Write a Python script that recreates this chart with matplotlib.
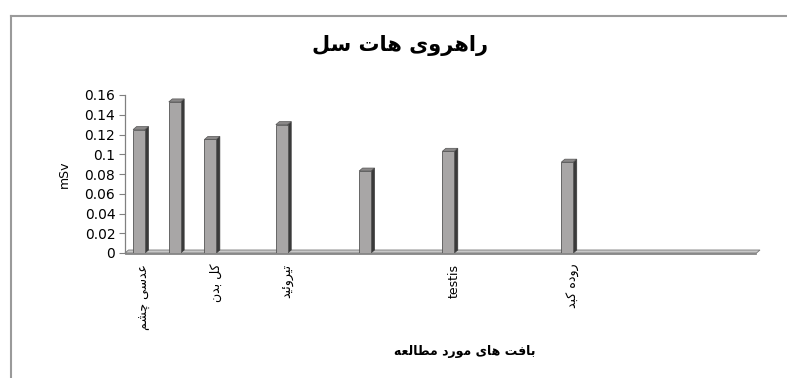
#!/usr/bin/env python3
# -*- coding: utf-8 -*-
"""
Dose per tissue in the hot-cell corridor, Excel-style 3D column chart.
"""
import matplotlib
matplotlib.use('Agg')
import matplotlib.pyplot as plt
from matplotlib.patches import Polygon
from matplotlib.lines import Line2D

#------------------------------------------------------------------------------#
# DATA
#------------------------------------------------------------------------------#
title = 'راهروی هات سل'
x_title = 'بافت های مورد مطالعه'
y_title = 'mSv'

tissues = ['عدسی چشم', '', 'کل بدن', 'تیروئید', '', 'testis', 'روده کبد']
dose = [0.125, 0.153, 0.115, 0.130, 0.083, 0.103, 0.092]
# category slot of each tissue on the (mostly blank) excel category axis
slot = [0, 3, 6, 12, 19, 26, 36]
n_slots = 53

y_ticks = [0, 0.02, 0.04, 0.06, 0.08, 0.1, 0.12, 0.14, 0.16]
y_tick_labels = ['0', '0.02', '0.04', '0.06', '0.08', '0.1', '0.12', '0.14', '0.16']

#------------------------------------------------------------------------------#
# small persian shaper (matplotlib has no arabic shaping / rtl)
#------------------------------------------------------------------------------#
# isolated, final, initial, medial
FORMS = {
    'ا': ('\uFE8D', '\uFE8E', None, None),
    'ب': ('\uFE8F', '\uFE90', '\uFE91', '\uFE92'),
    'ت': ('\uFE95', '\uFE96', '\uFE97', '\uFE98'),
    'ج': ('\uFE9D', '\uFE9E', '\uFE9F', '\uFEA0'),
    'چ': ('\uFB7A', '\uFB7B', '\uFB7C', '\uFB7D'),
    'د': ('\uFEA9', '\uFEAA', None, None),
    'ر': ('\uFEAD', '\uFEAE', None, None),
    'س': ('\uFEB1', '\uFEB2', '\uFEB3', '\uFEB4'),
    'ش': ('\uFEB5', '\uFEB6', '\uFEB7', '\uFEB8'),
    'ط': ('\uFEC1', '\uFEC2', '\uFEC3', '\uFEC4'),
    'ع': ('\uFEC9', '\uFECA', '\uFECB', '\uFECC'),
    'ف': ('\uFED1', '\uFED2', '\uFED3', '\uFED4'),
    'ک': ('\uFB8E', '\uFB8F', '\uFB90', '\uFB91'),
    'ل': ('\uFEDD', '\uFEDE', '\uFEDF', '\uFEE0'),
    'م': ('\uFEE1', '\uFEE2', '\uFEE3', '\uFEE4'),
    'ن': ('\uFEE5', '\uFEE6', '\uFEE7', '\uFEE8'),
    'ه': ('\uFEE9', '\uFEEA', '\uFEEB', '\uFEEC'),
    'و': ('\uFEED', '\uFEEE', None, None),
    'ی': ('\uFBFC', '\uFBFD', '\uFBFE', '\uFBFF'),
    'ئ': ('\uFE89', '\uFE8A', '\uFE8B', '\uFE8C'),
}


def dual(c):
    return c in FORMS and FORMS[c][2] is not None


def shape(text):
    if not any(c in FORMS for c in text):
        return text
    out = []
    for i, c in enumerate(text):
        if c not in FORMS:
            out.append(c)
            continue
        prev_j = i > 0 and dual(text[i - 1])
        next_j = dual(c) and i + 1 < len(text) and text[i + 1] in FORMS
        iso, fin, ini, med = FORMS[c]
        if prev_j and next_j:
            out.append(med)
        elif prev_j:
            out.append(fin)
        elif next_j:
            out.append(ini)
        else:
            out.append(iso)
    return ''.join(out)[::-1]

#------------------------------------------------------------------------------#
# PLOT
#------------------------------------------------------------------------------#
plt.rcParams['font.family'] = ['DejaVu Sans']

W, H = 787, 378
fig = plt.figure(figsize=(W / 100, H / 100), dpi=100)
fig.patch.set_facecolor('white')

ax = fig.add_axes([125 / W, 1 - 253 / H, 635 / W, 158 / H])
x_lo, x_hi = -1.18, n_slots - 0.8
ax.set_xlim(x_lo, x_hi)
ax.set_ylim(0, 0.16)

front = '#a8a6a6'
side = '#3a3a3a'
top = '#8a8888'

bars = ax.bar(slot, dose, width=1.0, color=front, edgecolor='#555555',
              linewidth=0.6, zorder=3)

# fake 3D depth: few pixels to the upper right
px_x = (x_hi - x_lo) / 635.0
px_y = 0.16 / 158.0
dx, dy = 3.5 * px_x, 3.0 * px_y

for b in bars:
    x0, w, h = b.get_x(), b.get_width(), b.get_height()
    ax.add_patch(Polygon([(x0 + w, 0), (x0 + w, h), (x0 + w + dx, h + dy),
                          (x0 + w + dx, dy)], closed=True, facecolor=side,
                         edgecolor=side, linewidth=0.5, zorder=2))
    ax.add_patch(Polygon([(x0, h), (x0 + w, h), (x0 + w + dx, h + dy),
                          (x0 + dx, h + dy)], closed=True, facecolor=top,
                         edgecolor='#555555', linewidth=0.5, zorder=2))

# floor slab
ax.add_patch(Polygon([(x_lo, 0), (x_hi - dx, 0), (x_hi, dy), (x_lo + dx, dy)],
                     closed=True, facecolor='#c8c8c8', edgecolor='#777777',
                     linewidth=0.6, zorder=1, clip_on=False))
ax.add_patch(Polygon([(x_lo, -0.0015), (x_hi - dx, -0.0015), (x_hi - dx, 0),
                      (x_lo, 0)], closed=True, facecolor='#9a9a9a',
                     edgecolor='#777777', linewidth=0.5, zorder=1, clip_on=False))

for s in ['top', 'right', 'bottom']:
    ax.spines[s].set_visible(False)
ax.spines['left'].set_color('#808080')
ax.spines['left'].set_linewidth(0.9)

ax.set_yticks(y_ticks)
ax.set_yticklabels(y_tick_labels, fontsize=10)
ax.tick_params(axis='y', length=4, color='#808080', pad=3)
ax.set_xticks([])

# category labels, rotated like excel
for s, name in zip(slot, tissues):
    if name:
        ax.text(s + 0.5, -0.011, shape(name), rotation=90, ha='center',
                va='top', fontsize=9)

ax.set_ylabel(y_title, fontsize=9, labelpad=10)
fig.text(465 / W, 1 - 352 / H, shape(x_title), ha='center', va='center',
         fontsize=9, fontweight='bold')
fig.text(400 / W, 1 - 45 / H, shape(title), ha='center', va='center',
         fontsize=15, fontweight='bold')

# chart area frame (left and top edges visible in the scan)
fig.add_artist(Line2D([11 / W, 11 / W], [0, 1 - 16 / H], color='#9a9a9a',
                      linewidth=1.5))
fig.add_artist(Line2D([11 / W, 1], [1 - 16 / H, 1 - 16 / H], color='#9a9a9a',
                      linewidth=1.5))

fig.savefig('out.png', dpi=100)
